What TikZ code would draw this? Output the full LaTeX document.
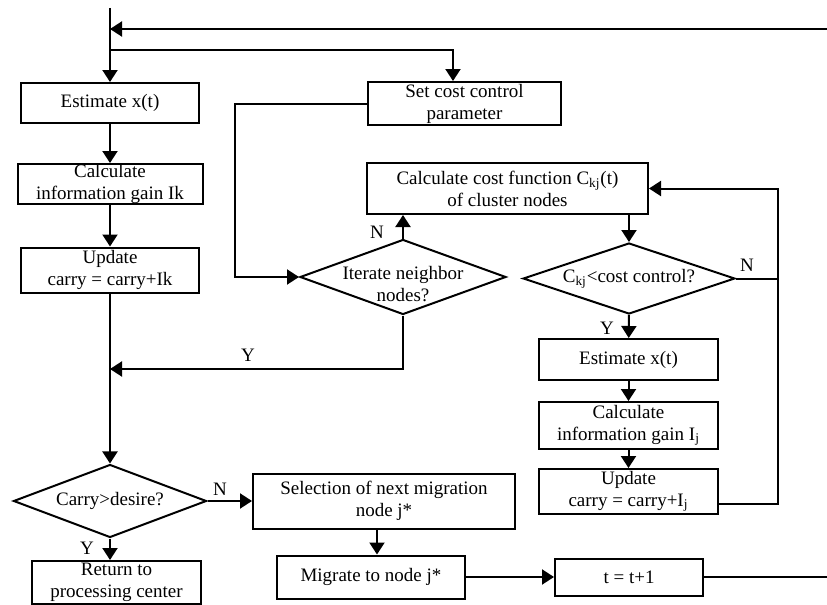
\documentclass[tikz,border=0pt]{standalone}
\usepackage{fontspec}
\setmainfont{Liberation Serif}
\usetikzlibrary{arrows.meta,shapes.geometric}
\begin{document}
\begin{tikzpicture}[x=0.5pt, y=-0.5pt, >={Triangle[width=7.5pt,length=6pt]}, line width=1pt,
  font=\fontsize{9.5}{11}\selectfont,
  box/.style={draw, align=center, inner sep=0pt},
  dec/.style={draw, diamond, inner sep=0pt}]
\useasboundingbox (0,0) rectangle (827,605);

% left column
\node[box, minimum width=89pt, minimum height=20pt] (est1) at (110,103) {Estimate x(t)};
\node[box, minimum width=92.5pt, minimum height=20pt] (gain1) at (110,184) {Calculate\\information gain Ik};
\node[box, minimum width=89pt, minimum height=22.5pt] (upd1) at (110,270) {Update\\carry = carry+Ik};
\node[dec, minimum width=96.5pt, minimum height=36.5pt,
  label={center:Carry>desire?}] (carry) at (110,501) {};
\node[box, minimum width=84.5pt, minimum height=21.5pt] (ret) at (116.5,582.5) {Return to\\processing center};

% middle
\node[box, minimum width=96.5pt, minimum height=21.5pt] (setcost) at (464.5,103.5) {Set cost control\\parameter};
\node[box, minimum width=140.5pt, minimum height=25.5pt] (cost) at (507.5,188.5) {Calculate cost function C\textsubscript{kj}(t)\\of cluster nodes};
\node[dec, minimum width=103pt, minimum height=37.5pt,
  label={[align=center, yshift=-3.5pt]center:Iterate neighbor\\nodes?}] (iter) at (403,277) {};
\node[box, minimum width=131pt, minimum height=27.5pt] (sel) at (384,501) {Selection of next migration\\node j*};
\node[box, minimum width=94pt, minimum height=21.5pt] (mig) at (371,577) {Migrate to node j*};

% right column
\node[dec, minimum width=106pt, minimum height=35.5pt,
  label={center:C\textsubscript{kj}<cost control?}] (ckj) at (629,278.5) {};
\node[box, minimum width=89.5pt, minimum height=20.5pt] (est2) at (628.5,359.5) {Estimate x(t)};
\node[box, minimum width=89.5pt, minimum height=23.5pt] (gain2) at (628.5,425.5) {Calculate\\information gain I\textsubscript{j}};
\node[box, minimum width=89.5pt, minimum height=22.5pt] (upd2) at (628.5,491.5) {Update\\carry = carry+I\textsubscript{j}};
\node[box, minimum width=74pt, minimum height=18.5pt] (tt) at (629,577) {t = t+1};

\coordinate (start) at (110,8);
\coordinate (back) at (827,29);
\coordinate (m1) at (110,29);
\coordinate (m2) at (110,50);
\coordinate (s1) at (453,50);
\coordinate (y1) at (110,369);
\coordinate (r1) at (778,504);
\coordinate (mj) at (377,0);
\coordinate (out) at (827,577);

\draw[->] (start) -- (est1);
\draw[->] (back) -- (m1);
\draw[->] (m2) -- (s1) -- (setcost.north -| s1);
\draw[->] (est1) -- (gain1);
\draw[->] (gain1) -- (upd1);
\draw[->] (upd1) -- (carry);
\draw[->] (setcost.west) -- ++(-132,0) |- (iter.west);
\draw[->] (iter.north) -- (iter.north |- cost.south);
\draw[->] (iter.south) |- (y1);
\draw[->] (ckj.north |- cost.south) -- (ckj.north);
\draw[->] (ckj.south) -- (est2);
\draw[->] (est2) -- (gain2);
\draw[->] (gain2) -- (upd2);
\draw (ckj.east) -- (ckj.east -| r1);
\draw[->] ([yshift=-6.25pt]upd2.east) -- (r1) |- (cost.east);
\draw[->] (carry.east) -- (sel.west);
\draw[->] (carry.south) -- (carry.south |- ret.north);
\draw[->] (sel.south -| mj) -- (mig.north -| mj);
\draw[->] (mig.east) -- (tt.west);
\draw (tt.east) -- (out);

\node at (377,232) {N};
\node at (248,355) {Y};
\node at (747,265) {N};
\node at (607,328) {Y};
\node at (220,489) {N};
\node at (87,548) {Y};
\end{tikzpicture}
\end{document}
